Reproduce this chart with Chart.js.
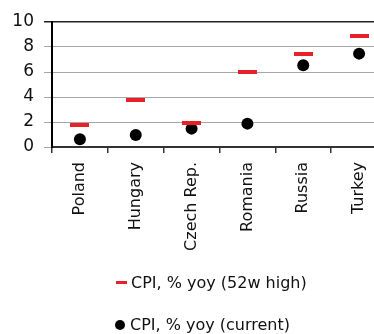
<!DOCTYPE html>
<html>
<head>
<meta charset="utf-8">
<script src="https://cdn.jsdelivr.net/npm/chart.js@4.4.1/dist/chart.umd.min.js"></script>
<style>
  html, body { margin: 0; padding: 0; background: #fff; overflow: hidden; width: 374px; height: 334px; }
  #wrap { position: relative; width: 374px; height: 334px; overflow: hidden; }
  canvas { position: absolute; left: 0; top: 0; }
  .leg { position: absolute; font-family: "DejaVu Sans", sans-serif; font-size: 16px; color: #111; white-space: nowrap; line-height: 18px; }
  .sym { position: absolute; }
</style>
</head>
<body>
<div id="wrap">
  <canvas id="c" width="398" height="334"></canvas>
  <div class="sym" style="left:116px;top:281px;width:11px;height:3px;background:#e8202a;"></div>
  <div class="leg" style="left:131px;top:274px;">CPI, % yoy (52w high)</div>
  <div class="sym" style="left:115px;top:320px;width:10px;height:10px;border-radius:50%;background:#000;"></div>
  <div class="leg" style="left:130px;top:316px;">CPI, % yoy (current)</div>
</div>
<script>
// Inflation by country: 52-week high vs. current reading
const countries = ["Poland", "Hungary", "Czech Rep.", "Romania", "Russia", "Turkey"];
const cpiHigh52w = [1.74, 3.76, 1.9, 6.0, 7.44, 8.88];
const cpiCurrent = [0.62, 0.96, 1.47, 1.87, 6.54, 7.47];
const yTicks = [0, 2, 4, 6, 8, 10];

// short red dash used as the marker for the 52-week high
const dash = document.createElement('canvas');
dash.width = 19; dash.height = 4;
const dctx = dash.getContext('2d');
dctx.fillStyle = '#e8202a';
dctx.fillRect(0, 0, 19, 4);

const font = "'DejaVu Sans', sans-serif";

new Chart(document.getElementById('c'), {
  type: 'line',
  data: {
    labels: countries,
    datasets: [
      {
        label: 'CPI, % yoy (52w high)',
        data: cpiHigh52w,
        showLine: false,
        pointStyle: dash,
        pointRadius: 10,
        pointHoverRadius: 10
      },
      {
        label: 'CPI, % yoy (current)',
        data: cpiCurrent,
        showLine: false,
        pointStyle: 'circle',
        pointRadius: 6,
        pointHoverRadius: 6,
        pointBackgroundColor: '#000',
        pointBorderColor: '#000',
        pointBorderWidth: 0
      }
    ]
  },
  options: {
    responsive: false,
    animation: false,
    layout: { padding: { top: 22, left: 0, right: 4, bottom: 84 } },
    plugins: { legend: { display: false }, tooltip: { enabled: false } },
    scales: {
      x: {
        type: 'category',
        offset: true,
        grid: { offset: true, drawOnChartArea: false, drawTicks: true, tickLength: 6, color: '#333', lineWidth: 1.5 },
        border: { color: '#333', width: 2 },
        ticks: {
          minRotation: 90, maxRotation: 90, autoSkip: false,
          padding: 9, color: '#111',
          font: { family: font, size: 16 }
        },
        afterFit: s => { s.height = 103; }
      },
      y: {
        min: 0, max: 10,
        afterBuildTicks: s => { s.ticks = yTicks.map(v => ({ value: v })); },
        grid: {
          color: c => (c.tick && c.tick.value === 10 ? '#222' : '#a6a6a6'),
          lineWidth: c => (c.tick && c.tick.value === 10 ? 1.5 : 1),
          tickLength: 8
        },
        border: { color: '#000', width: 2 },
        ticks: { padding: 10, color: '#111', font: { family: font, size: 17 } },
        afterFit: s => { s.width = 52; }
      }
    }
  }
});
</script>
</body>
</html>
